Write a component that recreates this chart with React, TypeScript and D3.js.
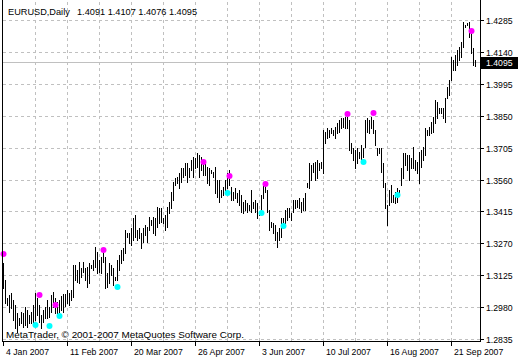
import React from "react";
import * as d3 from "d3";

const symbolTitle = "EURUSD,Daily";
const lastOHLC = [1.4091, 1.4107, 1.4076, 1.4095];
const copyright = "MetaTrader, © 2001-2007 MetaQuotes Software Corp.";

const highs = [
  1.3183, 1.3105, 1.3024, 1.3037, 1.3046, 1.3015, 1.2992, 1.2956, 1.2933, 1.296,
  1.2956, 1.2983, 1.2969, 1.2946, 1.296, 1.2992, 1.3046, 1.3024, 1.2992, 1.2946,
  1.2969, 1.2983, 1.3015, 1.2983, 1.3037, 1.3051, 1.3024, 1.3006, 1.3015, 1.3033,
  1.3042, 1.3042, 1.306, 1.3046, 1.306, 1.3174, 1.3174, 1.3151, 1.3187, 1.316,
  1.3187, 1.316, 1.3165, 1.3183, 1.3174, 1.3196, 1.3255, 1.3233, 1.3196, 1.321,
  1.3251, 1.321, 1.3137, 1.3183, 1.3174, 1.316, 1.3119, 1.3196, 1.3219, 1.3242,
  1.3251, 1.3333, 1.3319, 1.3319, 1.3342, 1.3387, 1.3401, 1.3333, 1.3342, 1.3319,
  1.3342, 1.3355, 1.3346, 1.3392, 1.3378, 1.3392, 1.3387, 1.3437, 1.3433, 1.3433,
  1.3387, 1.3401, 1.3437, 1.346, 1.3505, 1.3551, 1.3569, 1.3574, 1.3592, 1.3614,
  1.3614, 1.3637, 1.3637, 1.3614, 1.3651, 1.3664, 1.366, 1.3683, 1.3674, 1.3664,
  1.3651, 1.3637, 1.3619, 1.3614, 1.3605, 1.3596, 1.3619, 1.356, 1.356, 1.3514,
  1.3528, 1.356, 1.3592, 1.3605, 1.3528, 1.3505, 1.3523, 1.3501, 1.3514, 1.3492,
  1.346, 1.3469, 1.3455, 1.3446, 1.3514, 1.346, 1.3469, 1.3455, 1.3414, 1.3492,
  1.3551, 1.3546, 1.3514, 1.3424, 1.3369, 1.3365, 1.3355, 1.3324, 1.3342, 1.3387,
  1.3387, 1.3424, 1.3433, 1.3433, 1.341, 1.3469, 1.3469, 1.3469, 1.3478, 1.346,
  1.3478, 1.3501, 1.3546, 1.3637, 1.3628, 1.3637, 1.3642, 1.3651, 1.3637, 1.3642,
  1.3787, 1.3778, 1.3796, 1.3787, 1.3796, 1.3787, 1.3801, 1.3819, 1.3833, 1.3842,
  1.3842, 1.3846, 1.3846, 1.3833, 1.3728, 1.3705, 1.3696, 1.3705, 1.3687, 1.3719,
  1.3705, 1.3833, 1.3842, 1.3833, 1.3846, 1.3833, 1.3787, 1.3705, 1.3705, 1.3705,
  1.3637, 1.3546, 1.3446, 1.3514, 1.3537, 1.3492, 1.3505, 1.3523, 1.3514, 1.3614,
  1.3683, 1.3683, 1.3674, 1.3674, 1.366, 1.371, 1.3651, 1.3642, 1.3687, 1.3696,
  1.371, 1.3796, 1.3787, 1.3801, 1.3823, 1.3846, 1.3924, 1.3914, 1.3887, 1.3887,
  1.3887, 1.3933, 1.3983, 1.4014, 1.4119, 1.4105, 1.4128, 1.4151, 1.4164, 1.4187,
  1.4278, 1.4264, 1.4273, 1.4278, 1.4242, 1.416, 1.4107,
];

const lows = [
  1.3069, 1.3001, 1.2992, 1.296, 1.2978, 1.2924, 1.2887, 1.2869, 1.2901, 1.291,
  1.2892, 1.2901, 1.2892, 1.291, 1.291, 1.291, 1.2924, 1.2946, 1.2915, 1.2887,
  1.2915, 1.2933, 1.2933, 1.2937, 1.296, 1.2983, 1.2956, 1.2946, 1.2956, 1.2969,
  1.296, 1.2987, 1.3001, 1.2992, 1.3015, 1.3028, 1.3105, 1.3096, 1.3092, 1.3119,
  1.3142, 1.3105, 1.3074, 1.3092, 1.316, 1.3151, 1.3165, 1.3137, 1.3142, 1.3137,
  1.3187, 1.3069, 1.3074, 1.3092, 1.3128, 1.3083, 1.3105, 1.3105, 1.3151, 1.3183,
  1.3196, 1.3228, 1.3301, 1.3274, 1.3264, 1.3287, 1.3301, 1.3287, 1.3296, 1.3251,
  1.3278, 1.331, 1.3278, 1.3333, 1.3355, 1.3319, 1.331, 1.3346, 1.3365, 1.3369,
  1.3365, 1.3333, 1.3346, 1.341, 1.3433, 1.3469, 1.3537, 1.3546, 1.3523, 1.3551,
  1.3574, 1.3583, 1.3551, 1.3574, 1.3605, 1.3574, 1.3614, 1.3619, 1.3574, 1.3605,
  1.3583, 1.3583, 1.3546, 1.3537, 1.3592, 1.3574, 1.3501, 1.3483, 1.346, 1.3483,
  1.3492, 1.3505, 1.3523, 1.3537, 1.3469, 1.3469, 1.3478, 1.346, 1.3446, 1.3414,
  1.341, 1.3424, 1.3414, 1.3424, 1.3414, 1.3433, 1.3414, 1.3387, 1.3401, 1.3414,
  1.3478, 1.3505, 1.3414, 1.3333, 1.3346, 1.3319, 1.3287, 1.3255, 1.3287, 1.3301,
  1.3342, 1.3365, 1.3378, 1.3392, 1.3378, 1.3414, 1.3433, 1.3437, 1.3433, 1.3414,
  1.3424, 1.3424, 1.3528, 1.3523, 1.356, 1.3596, 1.356, 1.3569, 1.3605, 1.3614,
  1.3592, 1.3728, 1.3751, 1.3755, 1.3773, 1.3764, 1.3751, 1.3773, 1.3778, 1.3796,
  1.3801, 1.3796, 1.3796, 1.3696, 1.3683, 1.3651, 1.3614, 1.3637, 1.366, 1.3637,
  1.3664, 1.371, 1.3778, 1.3773, 1.3796, 1.3773, 1.3719, 1.3674, 1.3683, 1.3596,
  1.3528, 1.3433, 1.3355, 1.3446, 1.346, 1.346, 1.3455, 1.346, 1.3492, 1.3537,
  1.3569, 1.3628, 1.3605, 1.356, 1.3614, 1.3614, 1.3605, 1.3592, 1.3546, 1.3619,
  1.3651, 1.3674, 1.3764, 1.3764, 1.3773, 1.3778, 1.3819, 1.3842, 1.3864, 1.3864,
  1.3842, 1.3823, 1.3933, 1.3946, 1.4014, 1.406, 1.406, 1.4083, 1.4105, 1.4119,
  1.4164, 1.4255, 1.4264, 1.421, 1.4137, 1.4083, 1.4076,
];

const priceTicks = [1.4285, 1.414, 1.3995, 1.385, 1.3705, 1.356, 1.3415, 1.327, 1.3125, 1.298, 1.2835];
const dateLabels = ["4 Jan 2007", "11 Feb 2007", "20 Mar 2007", "26 Apr 2007", "3 Jun 2007", "10 Jul 2007", "16 Aug 2007", "21 Sep 2007"];
const dateLabelBars = [0, 32, 64, 96, 128, 160, 192, 224];
const gridBars = [16, 32, 48, 64, 80, 96, 112, 128, 144, 160, 176, 192, 208, 224];

const upDotBars = [0, 18, 26, 50, 100, 113, 131, 172, 185, 234];
const upDotPrices = [1.3224, 1.3037, 1.2992, 1.3242, 1.3642, 1.3578, 1.3542, 1.386, 1.3864, 1.4237];
const downDotBars = [16, 23, 28, 57, 112, 129, 140, 180, 197];
const downDotPrices = [1.2901, 1.2896, 1.2942, 1.3074, 1.3501, 1.341, 1.3351, 1.3642, 1.3492];

const W = 520;
const H = 360;
const FONT = "'Liberation Sans', Arial, sans-serif";

export default function App() {
  const x = d3.scaleLinear().domain([0, highs.length - 1]).range([3, 3 + 2 * (highs.length - 1)]);
  const y = d3.scaleLinear().domain([1.2835, 1.4285]).range([339.5, 20.5]);
  const axisX = 480.5;
  const axisY = 341.5;
  const lastPrice = lastOHLC[3];
  const yl = Math.round(y(lastPrice)) + 0.5;

  return (
    <svg width={W} height={H} style={{ position: "fixed", left: 0, top: 0, background: "#fff" }} shapeRendering="crispEdges">
      <rect x={0} y={0} width={W} height={H} fill="#fff" />
      {/* grid */}
      {priceTicks.map((p) => {
        const yy = Math.round(y(p) - 0.5) + 0.5;
        return <line key={"h" + p} x1={3} x2={axisX} y1={yy} y2={yy} stroke="#c0c0c0" strokeDasharray="3,3" />;
      })}
      {gridBars.map((b) => {
        const xx = x(b) + 0.5;
        return <line key={"v" + b} x1={xx} x2={xx} y1={2} y2={axisY} stroke="#c0c0c0" strokeDasharray="3,3" />;
      })}
      {/* current price line */}
      <line x1={3} x2={axisX} y1={yl} y2={yl} stroke="#c0c0c0" />
      {/* bars */}
      {highs.map((h, i) => {
        const y1 = Math.round(y(h));
        const y2 = Math.round(y(lows[i]));
        return <rect key={"b" + i} x={x(i)} y={y1} width={1} height={Math.max(1, y2 - y1 + 1)} fill="#000" />;
      })}
      {/* dots */}
      <g shapeRendering="auto">
        {upDotBars.map((b, k) => (
          <circle key={"u" + k} cx={x(b) + 0.5} cy={y(upDotPrices[k])} r={3} fill="#ff00ff" />
        ))}
        {downDotBars.map((b, k) => (
          <circle key={"d" + k} cx={x(b) + 0.5} cy={y(downDotPrices[k])} r={3} fill="#00ffff" />
        ))}
      </g>
      {/* frame */}
      <line x1={2.5} x2={2.5} y1={0} y2={axisY} stroke="#000" />
      <line x1={axisX} x2={axisX} y1={0} y2={axisY} stroke="#000" />
      <line x1={2} x2={axisX + 0.5} y1={axisY} y2={axisY} stroke="#000" />
      {/* price axis */}
      {priceTicks.map((p) => {
        const yy = Math.round(y(p) - 0.5) + 0.5;
        return (
          <g key={"pt" + p}>
            <line x1={axisX} x2={axisX + 3} y1={yy} y2={yy} stroke="#000" />
            <text x={486} y={yy + 3.5} fontFamily={FONT} fontSize={8.7} fill="#000">
              {p.toFixed(4)}
            </text>
          </g>
        );
      })}
      <rect x={481} y={yl - 6} width={37} height={12} fill="#000" />
      <text x={486} y={yl + 3.5} fontFamily={FONT} fontSize={8.7} fill="#fff">
        {lastPrice.toFixed(4)}
      </text>
      {/* time axis */}
      {dateLabelBars.map((b, k) => {
        const xx = x(b) + 0.5;
        return (
          <g key={"dt" + b}>
            <line x1={xx} x2={xx} y1={axisY} y2={axisY + 4} stroke="#000" />
            <text x={xx + 2.5} y={355} fontFamily={FONT} fontSize={8.7} fill="#000">
              {dateLabels[k]}
            </text>
          </g>
        );
      })}
      {/* texts */}
      <text x={8} y={15} fontFamily={FONT} fontSize={9.2} fill="#000">
        {symbolTitle}
      </text>
      <text x={77} y={15} fontFamily={FONT} fontSize={9.2} fill="#000">
        {lastOHLC.map((v) => v.toFixed(4)).join(" ")}
      </text>
      <text x={6} y={337.5} fontFamily={FONT} fontSize={9.9} fill="#000">
        {copyright}
      </text>
    </svg>
  );
}
